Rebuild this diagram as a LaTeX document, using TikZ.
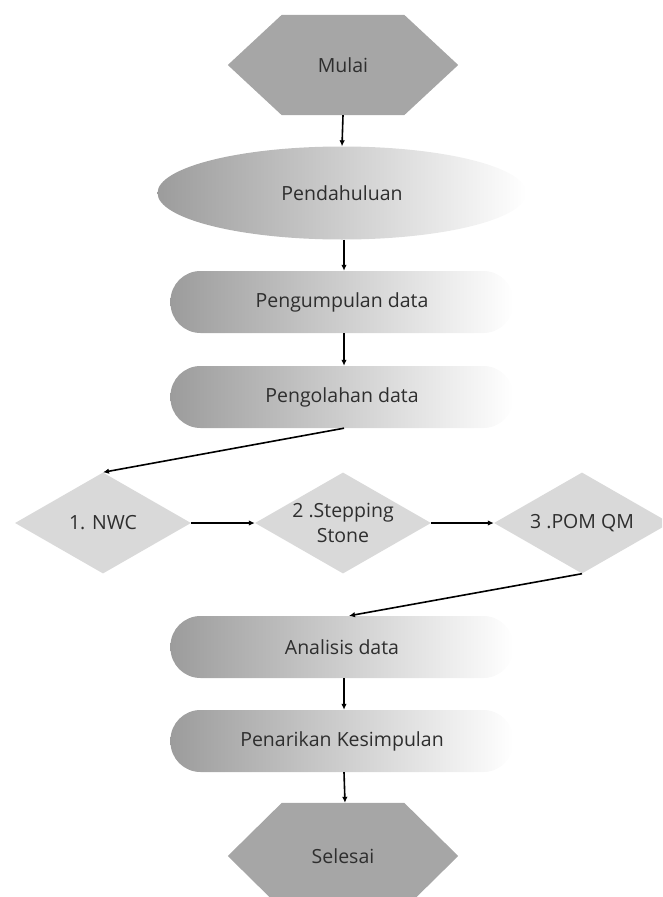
\documentclass[tikz,border=0pt]{standalone}
\usepackage{fontspec}
\setmainfont{Open Sans}
\usetikzlibrary{shapes.geometric,arrows.meta,backgrounds}
\definecolor{hexfill}{HTML}{A6A6A6}
\definecolor{diafill}{HTML}{D9D9D9}
\definecolor{boxL}{HTML}{9C9C9C}
\definecolor{txt}{HTML}{2E2E2E}
\tikzset{
  lbl/.style={text=txt, font=\fontsize{19.5}{25}\selectfont, inner sep=0pt, align=center},
  hexa/.style={lbl, minimum width=230pt, minimum height=100pt},
  oval/.style={lbl, ellipse, minimum width=369pt, minimum height=93pt,
    left color=boxL, right color=white},
  stepbox/.style={lbl, rectangle, rounded corners=30pt, minimum width=343pt, minimum height=62pt,
    left color=boxL, right color=white},
  dia/.style={diamond, fill=diafill, inner sep=0pt, minimum width=176pt, minimum height=101pt},
  arr/.style={-{Latex[length=6pt,width=5.5pt]}, line width=1.6pt, black}
}
\begin{document}
\begin{tikzpicture}[x=1pt,y=-1pt]
\useasboundingbox (0,0) rectangle (662,897);
\clip (0,0) rectangle (662,897);
\node[hexa] (mulai) at (343,65) {Mulai};
\node[oval] (pend) at (342,193) {Pendahuluan};
\node[stepbox] (kumpul) at (342,302) {Pengumpulan data};
\node[stepbox] (olah) at (342,397) {Pengolahan data};
\node[dia] (nwc) at (103,523) {};
\node[dia] (ss) at (343,523) {};
\node[dia] (pom) at (582,523) {};
\node[lbl] (nwcT) at (nwc) {1. NWC};
\node[lbl] (ssT) at (ss) {2 .Stepping\\Stone};
\node[lbl] (pomT) at (pom) {3 .POM QM};
\node[stepbox] (anal) at (342,647) {Analisis data};
\node[stepbox] (tarik) at (342,741) {Penarikan Kesimpulan};
\node[hexa, minimum height=106pt] (selesai) at (343,856) {Selesai};
\begin{scope}[on background layer]
\foreach \h in {mulai,selesai}{
  \fill[hexfill] (\h.west) -- ([xshift=54pt]\h.north west) -- ([xshift=-54pt]\h.north east)
    -- (\h.east) -- ([xshift=-54pt]\h.south east) -- ([xshift=54pt]\h.south west) -- cycle;
}
\end{scope}
\draw[arr] (mulai.south) -- (pend.north);
\draw[arr] ([xshift=2pt]pend.south) -- ([xshift=2pt]kumpul.north);
\draw[arr] ([xshift=2pt]kumpul.south) -- ([xshift=2pt]olah.north);
\draw[arr] ([xshift=2pt]olah.south) -- (nwc.north);
\draw[arr] (nwc.east) -- (ss.west);
\draw[arr] (ss.east) -- (pom.west);
\draw[arr] (pom.south) -- ([xshift=7pt]anal.north);
\draw[arr] ([xshift=2pt]anal.south) -- ([xshift=2pt]tarik.north);
\draw[arr] ([xshift=2pt]tarik.south) -- ([xshift=2pt]selesai.north);
\end{tikzpicture}
\end{document}
